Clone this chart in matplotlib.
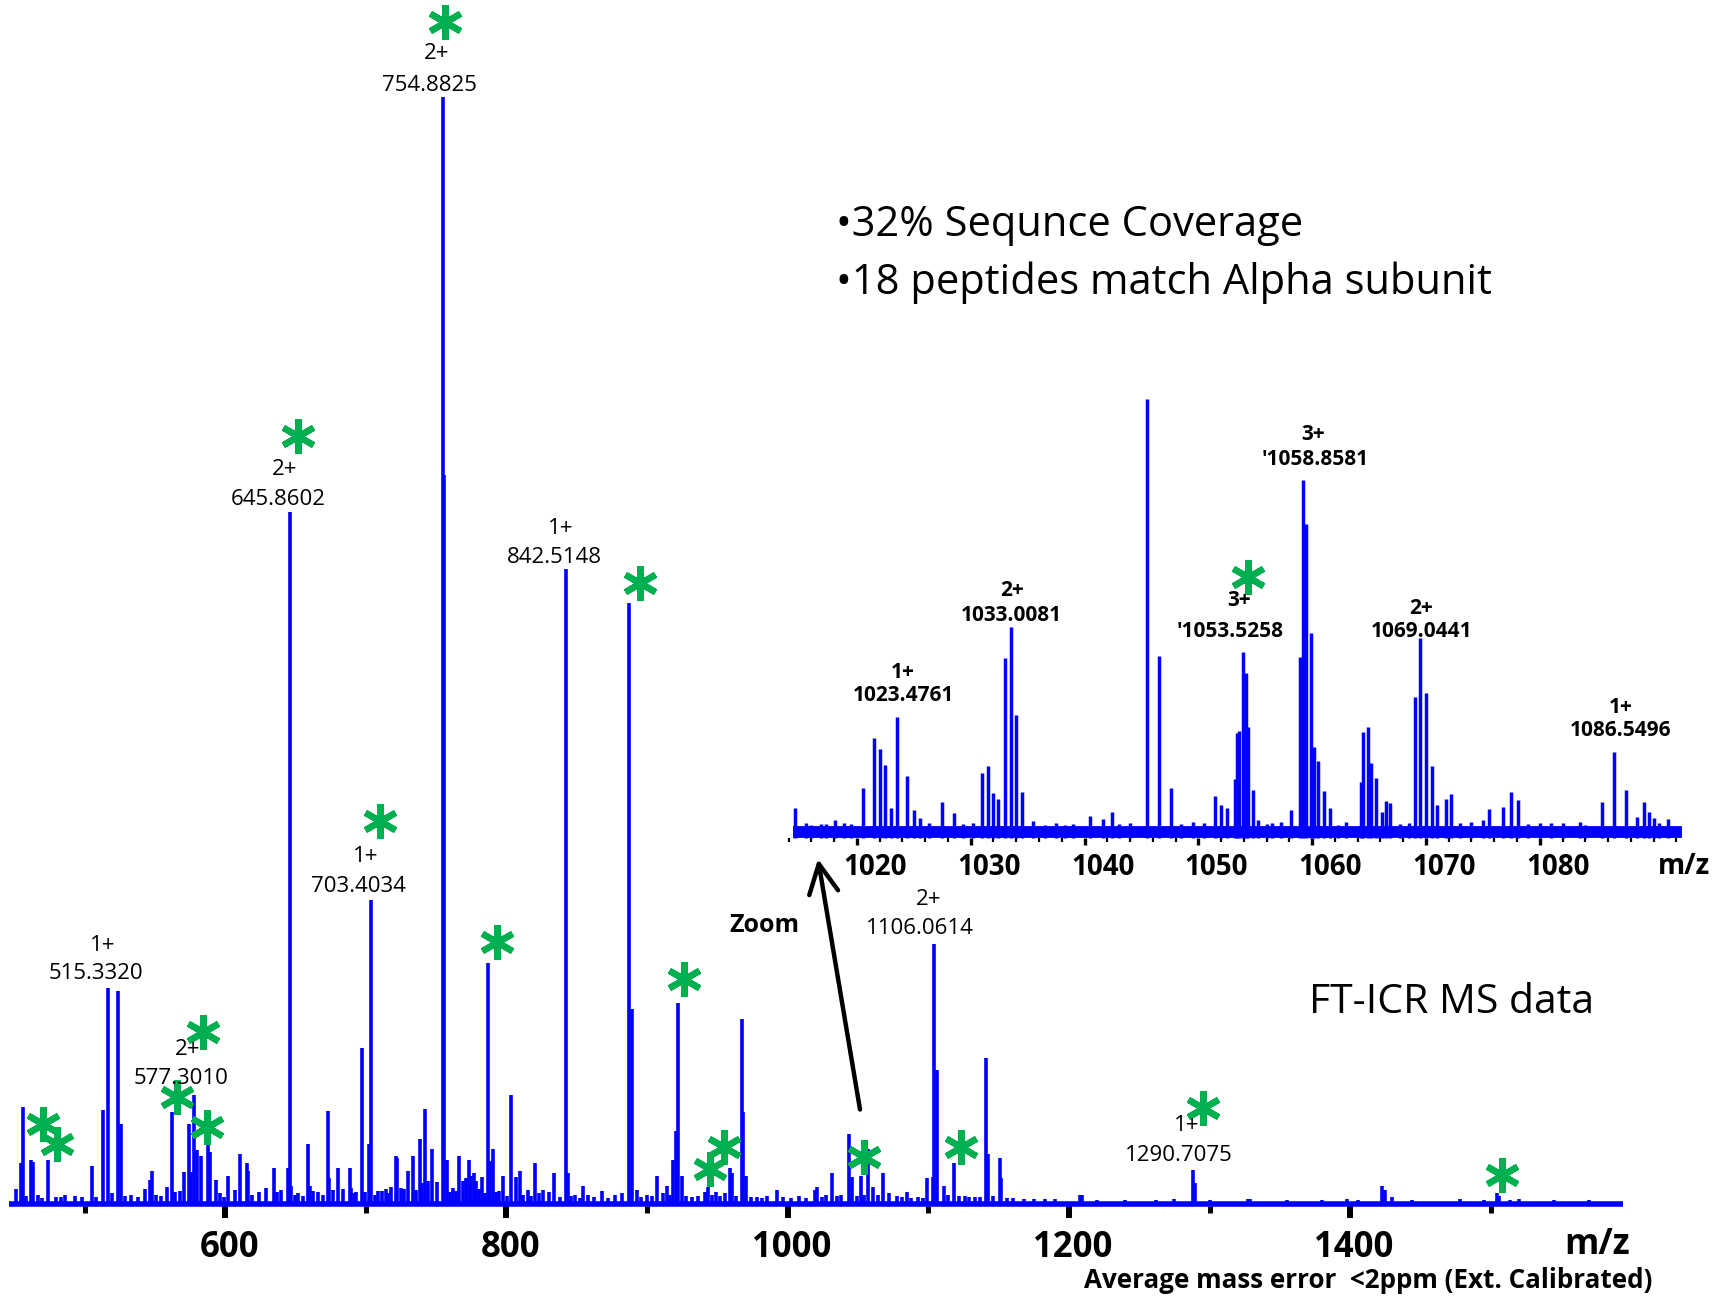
import matplotlib
matplotlib.use("Agg")
import matplotlib.pyplot as plt
from matplotlib.ticker import MultipleLocator
from matplotlib.transforms import ScaledTranslation

# ---------------- data ----------------
main_mz = [451.0, 454.6, 456.4, 461.7, 463.5, 467.0, 474.0, 479.5, 486.0, 493.0, 498.5, 505.1,
           513.3, 516.9, 524.0, 525.7, 533.0, 543.0, 546.5, 548.2, 558.4, 562.2, 564.0,
           571.0, 574.3, 576.0, 577.8, 579.7, 583.0, 588.0, 589.2, 593.5, 602.2, 607.0,
           610.5, 615.3, 616.3, 624.0, 629.0, 634.7, 640.0, 644.9, 645.86, 646.9, 652.0,
           659.1, 660.0, 666.0, 673.1, 674.0, 680.0, 684.0, 688.7, 689.5, 693.0, 697.3,
           702.5, 703.4, 709.0, 714.0, 718.0, 721.5, 722.5, 727.0, 730.2, 733.8, 738.5,
           740.0, 742.3, 744.0, 747.3, 750.5, 754.88, 755.38, 757.9, 762.0, 766.5, 769.0,
           771.0, 773.6, 774.5, 776.9, 778.5, 782.4, 787.1, 788.2, 790.7, 794.5, 797.8,
           803.0, 806.5, 809.6, 815.0, 820.3, 826.0, 830.0, 834.0, 842.5, 843.5, 849.0,
           854.7, 858.0, 868.0, 877.0, 882.0, 887.4, 889.5, 893.0, 900.0, 906.8, 911.0,
           914.0, 918.7, 920.6, 922.2, 925.0, 936.0, 941.0, 943.1, 949.0, 959.0, 960.5,
           967.3, 968.5, 970.7, 978.0, 985.0, 992.2, 1008.0, 1019.4, 1020.8, 1027.0,
           1031.7, 1038.0, 1043.8, 1045.5, 1052.1, 1057.3, 1061.0, 1064.0, 1068.0, 1072.0,
           1078.0, 1085.1, 1093.0, 1099.1, 1103.0, 1104.3, 1106.0, 1111.2, 1114.0, 1118.3,
           1126.0, 1133.0, 1140.8, 1142.7, 1151.2, 1152.0, 1160.0, 1175.0, 1190.0, 1207.9,
           1209.1, 1220.0, 1240.0, 1262.0, 1275.0, 1288.0, 1289.5, 1300.0, 1327.6, 1329.0,
           1355.0, 1380.0, 1397.5, 1405.8, 1422.9, 1424.5, 1430.0, 1444.0, 1478.1, 1495.0,
           1504.2, 1505.8, 1514.0, 1520.0, 1545.0, 1570.0,
           458.5, 470.0, 483.0, 508.0, 519.5, 529.0, 538.0, 551.0, 554.5, 567.5, 596.0,
           599.0, 619.0, 637.0, 649.5, 655.5, 662.5, 669.5, 677.0, 691.5, 699.5, 706.5,
           711.5, 716.0, 725.0, 735.5, 760.0, 764.0, 780.5, 785.0, 792.5, 800.5, 812.0,
           817.5, 823.0, 838.0, 846.0, 852.0, 862.0, 872.0, 896.0, 903.5, 916.5, 928.0,
           932.0, 946.0, 952.0, 955.5, 963.0, 974.0, 981.5, 997.0, 1002.0, 1013.0,
           1024.5, 1035.0, 1049.0, 1054.5, 1081.0, 1088.0, 1096.0, 1122.0, 1129.0,
           1137.0, 1146.0, 1156.0, 1168.0, 1183.0]
main_int = [1.5, 3.8, 8.9, 4.1, 3.9, 1.0, 4.1, 0.8, 1.0, 0.9, 0.8, 3.6,
            8.6, 19.6, 19.4, 7.4, 1.0, 1.5, 2.3, 3.1, 1.7, 8.4, 1.2,
            3.0, 7.4, 3.0, 10.0, 5.0, 4.5, 5.8, 4.8, 2.3, 2.7, 1.4,
            4.7, 3.8, 3.1, 1.2, 1.6, 3.4, 1.4, 3.4, 62.6, 1.8, 1.1,
            5.6, 1.8, 1.2, 8.5, 2.5, 3.4, 1.5, 3.4, 1.6, 1.2, 14.2,
            5.6, 27.6, 1.3, 1.5, 1.7, 4.5, 4.3, 1.5, 3.1, 4.5, 6.0,
            2.0, 8.7, 2.2, 5.1, 2.1, 100.0, 65.9, 4.1, 1.6, 4.5, 2.2,
            2.5, 4.1, 2.7, 2.9, 2.2, 2.6, 21.9, 4.0, 5.1, 1.3, 2.7,
            10.0, 2.6, 3.1, 1.4, 3.8, 1.4, 1.2, 2.9, 57.4, 2.9, 1.0,
            1.8, 1.0, 1.3, 1.0, 1.1, 54.4, 17.7, 1.4, 1.0, 2.7, 1.1,
            1.8, 4.1, 6.7, 18.3, 2.7, 0.9, 1.2, 1.7, 1.2, 3.4, 2.9,
            16.8, 8.4, 2.7, 0.8, 0.9, 1.4, 0.9, 1.4, 1.7, 1.0,
            2.9, 1.0, 6.5, 2.6, 2.7, 5.1, 1.7, 1.0, 2.9, 1.1,
            0.9, 1.2, 0.8, 2.5, 2.6, 23.6, 12.2, 1.8, 1.0, 3.8,
            0.9, 0.8, 13.3, 4.7, 4.3, 2.5, 0.7, 0.6, 0.6, 1.0,
            1.0, 0.5, 0.5, 0.5, 0.6, 3.2, 2.0, 0.5, 0.6, 0.6,
            0.5, 0.5, 0.6, 0.5, 1.8, 1.4, 0.8, 0.5, 0.6, 0.5,
            1.1, 0.9, 0.5, 0.6, 0.5, 0.5,
            0.9, 0.7, 0.8, 0.8, 1.1, 0.9, 0.8, 1.0, 0.9, 1.3, 1.1,
            0.8, 1.0, 1.2, 1.0, 0.9, 1.3, 1.0, 1.4, 1.1, 1.2, 1.0,
            1.3, 1.1, 1.6, 1.4, 1.2, 1.3, 1.5, 1.1, 1.2, 0.9, 1.0,
            0.9, 1.1, 0.8, 0.9, 0.7, 0.8, 0.7, 0.8, 0.9, 1.0, 0.9,
            0.8, 1.0, 0.9, 1.1, 0.9, 0.8, 0.7, 0.8, 0.7, 0.7,
            0.8, 0.9, 0.9, 1.0, 0.8, 0.7, 0.7, 0.9, 0.8,
            0.8, 0.9, 0.7, 0.6, 0.6]
main_span = [446.0, 1594.0]

inset_mz = [1014.6, 1015.5, 1016.8, 1018.1, 1018.9, 1020.5, 1021.5, 1022.0, 1022.5, 1023.0,
            1023.5, 1024.4, 1025.0, 1025.5, 1027.5, 1028.5, 1030.2, 1031.0, 1031.5, 1032.0,
            1032.4, 1033.0, 1033.5, 1034.0, 1034.5, 1035.5, 1037.5, 1039.0, 1040.5, 1041.6,
            1042.4, 1044.0, 1045.5, 1046.5, 1047.6, 1049.5, 1051.5, 1052.0, 1052.5, 1053.2,
            1053.4, 1053.6, 1053.9, 1054.2, 1054.4, 1054.8, 1055.2, 1056.5, 1058.1, 1058.9,
            1059.2, 1059.5, 1059.9, 1060.2, 1060.5, 1061.0, 1061.6, 1063.0, 1064.3, 1064.5,
            1064.9, 1065.2, 1065.6, 1066.1, 1066.5, 1066.8, 1068.5, 1069.0, 1069.5, 1070.0,
            1070.5, 1071.0, 1071.8, 1072.2, 1074.0, 1075.5, 1076.8, 1077.5, 1078.1, 1080.0,
            1082.0, 1083.5, 1085.5, 1086.5, 1087.6, 1088.5, 1089.2, 1089.6, 1090.5, 1091.3,
            1016.0, 1017.3, 1019.5, 1026.3, 1029.3, 1036.5, 1038.3, 1043.0, 1048.5, 1050.5,
            1056.0, 1057.3, 1062.3, 1067.7, 1073.0, 1075.0, 1079.0, 1081.0, 1084.0, 1090.0]
inset_int = [6.8, 3.5, 3.2, 4.1, 3.5, 11.5, 22.9, 20.4, 16.6, 6.9,
             27.5, 14.2, 6.4, 4.5, 8.3, 5.6, 3.5, 14.9, 16.3, 10.2,
             8.8, 41.0, 48.2, 28.0, 10.4, 3.8, 3.5, 3.2, 5.0, 4.3,
             6.0, 3.5, 100.0, 41.6, 11.3, 3.6, 9.6, 7.5, 6.9, 13.4,
             23.9, 24.4, 42.5, 37.5, 25.4, 10.9, 4.0, 3.4, 6.4, 41.2,
             81.5, 71.5, 46.8, 20.8, 17.6, 10.6, 6.9, 3.6, 12.7, 24.2,
             25.2, 17.0, 13.6, 6.0, 8.5, 7.9, 3.4, 32.1, 45.5, 33.0,
             16.5, 7.5, 9.0, 10.0, 3.6, 6.5, 7.1, 10.4, 8.7, 3.5,
             3.4, 3.6, 8.1, 19.5, 10.9, 4.9, 8.1, 6.0, 3.5, 4.3,
             3.0, 3.3, 3.1, 3.4, 3.2, 3.0, 2.9, 3.3, 3.1, 3.4,
             3.2, 3.6, 3.0, 3.3, 3.5, 4.2, 3.1, 3.4, 3.0, 4.5]
inset_span = [1014.4, 1092.5]

main_major_ticks = [600, 800, 1000, 1200, 1400]
main_minor_ticks = [500, 700, 900, 1100, 1300, 1500]
inset_major_ticks = [1020, 1030, 1040, 1050, 1060, 1070, 1080]

main_charges = ["2+", "2+", "1+", "1+", "1+", "2+", "2+", "1+"]
main_peak_labels = ["754.8825", "645.8602", "842.5148", "703.4034", "515.3320",
                    "577.3010", "1106.0614", "1290.7075"]
inset_charges = ["1+", "2+", "3+", "3+", "2+", "1+"]
inset_peak_labels = ["1023.4761", "1033.0081", "'1053.5258", "'1058.8581",
                     "1069.0441", "1086.5496"]
bullet_lines = ["\u202232% Sequnce Coverage", "\u202218 peptides match Alpha subunit"]

# ---------------- layout / style ----------------
BLUE = "#0000FF"
GREEN = "#00B050"
FONT = ["Open Sans", "DejaVu Sans"]
W, H = 1731, 1298
plt.rcParams["font.family"] = FONT

fig = plt.figure(figsize=(W / 100, H / 100), dpi=100)

# main spectrum axes
ax = fig.add_axes([0.000121, 0.07119, 0.94235, 0.85393])
ax.set_xlim(440, 1600)
ax.set_ylim(0, 100)
for s in ax.spines.values():
    s.set_visible(False)
ax.set_yticks([])
ax.patch.set_alpha(0)
ax.plot(main_span, [0.1, 0.1], color=BLUE, lw=4.0, solid_capstyle="butt", clip_on=False)
ax.vlines(main_mz, 0, main_int, color=BLUE, lw=2.6, clip_on=False)
ax.set_xticks(main_major_ticks)
ax.set_xticklabels([str(t) for t in main_major_ticks])
ax.set_xticks(main_minor_ticks, minor=True)
ax.tick_params(axis="x", which="major", length=8.5, width=4.3, direction="out",
               pad=9, labelsize=25, color="black")
ax.tick_params(axis="x", which="minor", length=5.2, width=3.6, direction="out", color="black")
for lab in ax.get_xticklabels():
    lab.set_fontweight("bold")
for tk in ax.xaxis.get_major_ticks():
    tk.label1.set_transform(tk.label1.get_transform() + ScaledTranslation(0.04, 0, fig.dpi_scale_trans))
fig.text(1597.5 / W, 1 - 1245 / H, "m/z", fontsize=25, fontweight="bold", ha="center", va="center")

main_charge_pos = [(750.0, 103.9), (642.4, 66.4), (838.7, 61.1), (699.7, 31.5),
                   (512.9, 23.5), (573.3, 14.1), (1100.1, 27.6), (1283.8, 7.2)]
main_label_pos = [(745.3, 101.1), (637.7, 63.7), (834.0, 58.5), (695.0, 28.8),
                  (508.1, 20.9), (568.6, 11.5), (1093.8, 25.0), (1278.4, 4.5)]
for txt, (x, y) in zip(main_charges, main_charge_pos):
    ax.text(x, y, txt, fontsize=16, ha="center", va="center", clip_on=False)
for txt, (x, y) in zip(main_peak_labels, main_label_pos):
    ax.text(x, y, txt, fontsize=16, ha="center", va="center", clip_on=False)

star_x = [756.2, 651.8, 895.2, 709.9, 793.1, 584.3, 565.8, 587.4, 470.6, 480.4,
          926.5, 954.8, 945.0, 1054.5, 1123.1, 1295.6, 1507.7]
star_y = [106.8, 69.4, 56.2, 34.7, 23.8, 15.7, 9.8, 7.1, 7.4, 5.6,
          20.4, 5.3, 3.3, 4.4, 5.3, 8.8, 2.8]
ax.plot(star_x, star_y, linestyle="none", marker=(6, 2, 0), markersize=25,
        markeredgewidth=4.6, color=GREEN, clip_on=False)

# inset axes
axi = fig.add_axes([0.4556, 0.35439, 0.5194, 0.33798])
axi.set_xlim(1014, 1093)
axi.set_ylim(0, 100)
for s in axi.spines.values():
    s.set_visible(False)
axi.set_yticks([])
axi.patch.set_alpha(0)
axi.plot(inset_span, [1.4, 1.4], color=BLUE, lw=8.5, solid_capstyle="butt", clip_on=False)
axi.vlines(inset_mz, 0, inset_int, color=BLUE, lw=2.5, clip_on=False)
axi.set_xticks(inset_major_ticks)
axi.set_xticklabels([str(t) for t in inset_major_ticks])
axi.xaxis.set_minor_locator(MultipleLocator(2))
axi.tick_params(axis="x", which="major", length=5, width=2.4, direction="out",
                pad=6, labelsize=20)
axi.tick_params(axis="x", which="minor", length=3, width=1.6, direction="out")
for lab in axi.get_xticklabels():
    lab.set_fontweight("bold")
for tk in axi.xaxis.get_major_ticks():
    tk.label1.set_transform(tk.label1.get_transform() + ScaledTranslation(0.18, 0, fig.dpi_scale_trans))
fig.text(1683.6 / W, 1 - 866.7 / H, "m/z", fontsize=20, fontweight="bold", ha="center", va="center")

inset_charge_pos = [(1024.05, 37.8), (1033.6, 56.5), (1053.6, 54.1), (1060.1, 91.9),
                    (1069.6, 52.4), (1087.1, 29.8)]
inset_label_pos = [(1024.05, 32.4), (1033.6, 50.8), (1052.8, 47.0), (1060.3, 86.2),
                   (1069.6, 47.0), (1087.1, 24.4)]
for txt, (x, y) in zip(inset_charges, inset_charge_pos):
    axi.text(x, y, txt, fontsize=15, fontweight="bold", ha="center", va="center", clip_on=False)
for txt, (x, y) in zip(inset_peak_labels, inset_label_pos):
    axi.text(x, y, txt, fontsize=15, fontweight="bold", ha="center", va="center", clip_on=False)
axi.plot([1054.4], [59.6], linestyle="none", marker=(6, 2, 0), markersize=25,
         markeredgewidth=4.6, color=GREEN, clip_on=False)

# zoom arrow and free texts
ax.annotate("", xy=(818, H - 859), xycoords="figure pixels",
            xytext=(860, H - 1109.5), textcoords="figure pixels",
            arrowprops=dict(arrowstyle="->,head_length=0.7,head_width=0.35",
                            lw=3.2, color="black", mutation_scale=30, shrinkA=0, shrinkB=0))
fig.text(764 / W, 1 - 925 / H, "Zoom", fontsize=18, fontweight="bold", ha="center", va="center")
fig.text(836 / W, 1 - 225 / H, bullet_lines[0], fontsize=30, ha="left", va="center")
fig.text(836 / W, 1 - 282.6 / H, bullet_lines[1], fontsize=30, ha="left", va="center")
fig.text(1452 / W, 1 - 1002.5 / H, "FT-ICR MS data", fontsize=29.5, ha="center", va="center")
fig.text(1368 / W, 1 - 1281 / H, "Average mass error  <2ppm (Ext. Calibrated)",
         fontsize=18.7, fontweight="bold", ha="center", va="center")

fig.savefig("out.png", dpi=100)
